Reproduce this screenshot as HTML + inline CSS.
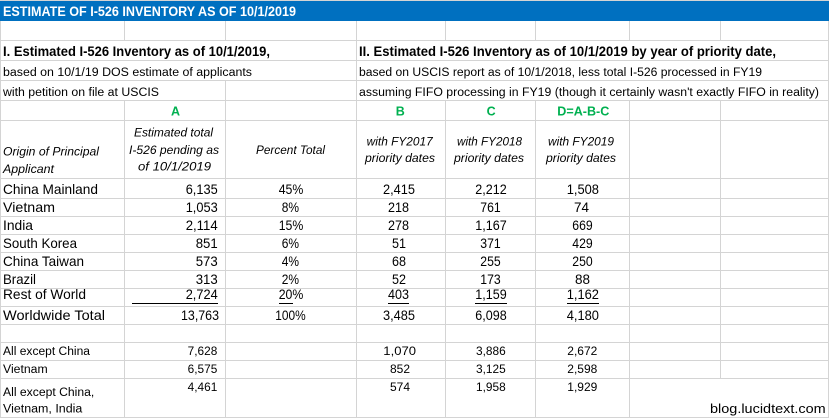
<!DOCTYPE html>
<html>
<head>
<meta charset="utf-8">
<style>
html,body{margin:0;padding:0;background:#fff;}
svg{display:block;}
text{font-family:"Liberation Sans",sans-serif;fill:#000;}
.t14{font-size:14px;}
.s{font-size:11.5px;}
.i{font-size:11.5px;font-style:italic;}
.g{font-size:12.5px;font-weight:bold;fill:#00B050;}
.b{font-weight:bold;font-size:13.5px;}
</style>
</head>
<body>
<svg width="829" height="419" viewBox="0 0 829 419" xmlns="http://www.w3.org/2000/svg">
<rect x="0" y="0" width="829" height="419" fill="#fff"/>
<!-- top line and blue bar -->
<rect x="0" y="0" width="829" height="1" fill="#d4d4d4"/>
<rect x="0" y="1" width="829" height="20" fill="#0070C0"/>

<!-- horizontal gridlines -->
<g fill="#d4d4d4">
<rect x="0" y="40" width="829" height="1"/>
<rect x="0" y="60" width="829" height="1"/>
<rect x="0" y="80" width="829" height="1"/>
<rect x="0" y="100" width="829" height="1"/>
<rect x="0" y="120" width="829" height="1"/>
<rect x="0" y="178" width="829" height="1"/>
<rect x="0" y="198" width="829" height="1"/>
<rect x="0" y="216" width="829" height="1"/>
<rect x="0" y="234" width="829" height="1"/>
<rect x="0" y="252" width="829" height="1"/>
<rect x="0" y="270" width="829" height="1"/>
<rect x="0" y="288" width="829" height="1"/>
<rect x="0" y="306" width="829" height="1"/>
<rect x="0" y="324" width="829" height="1"/>
<rect x="0" y="342" width="829" height="1"/>
<rect x="0" y="360" width="829" height="1"/>
<rect x="0" y="378" width="829" height="1"/>
<rect x="0" y="417" width="829" height="1"/>
<!-- vertical gridlines -->
<rect x="0" y="21" width="1" height="397"/>
<rect x="124" y="21" width="1" height="19"/>
<rect x="124" y="100" width="1" height="318"/>
<rect x="225" y="21" width="1" height="19"/>
<rect x="225" y="80" width="1" height="338"/>
<rect x="356" y="21" width="1" height="397"/>
<rect x="445" y="21" width="1" height="19"/>
<rect x="445" y="100" width="1" height="318"/>
<rect x="535" y="21" width="1" height="19"/>
<rect x="535" y="100" width="1" height="318"/>
<rect x="629" y="21" width="1" height="19"/>
<rect x="629" y="100" width="1" height="318"/>
<rect x="720" y="21" width="1" height="19"/>
<rect x="720" y="100" width="1" height="278"/>
<rect x="828" y="21" width="1" height="397"/>
</g>

<!-- title -->
<text x="3" y="16" class="b" style="fill:#fff" textLength="293" lengthAdjust="spacingAndGlyphs">ESTIMATE OF I-526 INVENTORY AS OF 10/1/2019</text>

<!-- section headings -->
<text x="3" y="56" class="b" textLength="267" lengthAdjust="spacingAndGlyphs">I. Estimated I-526 Inventory as of 10/1/2019,</text>
<text x="359" y="56" class="b" textLength="417" lengthAdjust="spacingAndGlyphs">II. Estimated I-526 Inventory as of 10/1/2019 by year of priority date,</text>
<text x="3" y="76" class="s" textLength="249" lengthAdjust="spacingAndGlyphs">based on 10/1/19 DOS estimate of applicants</text>
<text x="359" y="76" class="s" textLength="403" lengthAdjust="spacingAndGlyphs">based on USCIS report as of 10/1/2018, less total I-526 processed in FY19</text>
<text x="3" y="96" class="s" textLength="156" lengthAdjust="spacingAndGlyphs">with petition on file at USCIS</text>
<text x="359" y="96" class="s" textLength="460" lengthAdjust="spacingAndGlyphs">assuming FIFO processing in FY19 (though it certainly wasn't exactly FIFO in reality)</text>

<!-- green letters -->
<text x="175.5" y="115.5" class="g" text-anchor="middle">A</text>
<text x="400.3" y="115.5" class="g" text-anchor="middle">B</text>
<text x="491.2" y="115.5" class="g" text-anchor="middle">C</text>
<text x="557.3" y="115.5" class="g" textLength="52" lengthAdjust="spacingAndGlyphs">D=A-B-C</text>

<!-- italic headers -->
<text x="3" y="155.5" class="i" textLength="96" lengthAdjust="spacingAndGlyphs">Origin of Principal</text>
<text x="3" y="173" class="i" textLength="51" lengthAdjust="spacingAndGlyphs">Applicant</text>
<text x="134" y="136.5" class="i" textLength="79" lengthAdjust="spacingAndGlyphs">Estimated total</text>
<text x="129" y="154" class="i" textLength="90" lengthAdjust="spacingAndGlyphs">I-526 pending as</text>
<text x="138" y="170.5" class="i" textLength="73" lengthAdjust="spacingAndGlyphs">of 10/1/2019</text>
<text x="256" y="154" class="i" textLength="69" lengthAdjust="spacingAndGlyphs">Percent Total</text>
<text x="366.7" y="145.5" class="i" textLength="66" lengthAdjust="spacingAndGlyphs">with FY2017</text>
<text x="365" y="162" class="i" textLength="70" lengthAdjust="spacingAndGlyphs">priority dates</text>
<text x="457" y="145.5" class="i" textLength="65" lengthAdjust="spacingAndGlyphs">with FY2018</text>
<text x="454" y="162" class="i" textLength="70" lengthAdjust="spacingAndGlyphs">priority dates</text>
<text x="548" y="145.5" class="i" textLength="66" lengthAdjust="spacingAndGlyphs">with FY2019</text>
<text x="546" y="162" class="i" textLength="70" lengthAdjust="spacingAndGlyphs">priority dates</text>

<!-- data rows -->
<g class="t14">
<text x="3" y="194" class="t14" textLength="95" lengthAdjust="spacingAndGlyphs">China Mainland</text>
<text x="185.7" y="194" class="t14" textLength="32" lengthAdjust="spacingAndGlyphs">6,135</text>
<text x="278.7" y="194" class="t14" textLength="24.6" lengthAdjust="spacingAndGlyphs">45%</text>
<text x="383" y="194" class="t14" textLength="32" lengthAdjust="spacingAndGlyphs">2,415</text>
<text x="475.3" y="194" class="t14" textLength="31.4" lengthAdjust="spacingAndGlyphs">2,212</text>
<text x="566.7" y="194" class="t14" textLength="32.3" lengthAdjust="spacingAndGlyphs">1,508</text>

<text x="3" y="212" class="t14" textLength="52" lengthAdjust="spacingAndGlyphs">Vietnam</text>
<text x="185.7" y="212" class="t14" textLength="32" lengthAdjust="spacingAndGlyphs">1,053</text>
<text x="281.7" y="212" class="t14" textLength="17.3" lengthAdjust="spacingAndGlyphs">8%</text>
<text x="388" y="212" class="t14" textLength="21" lengthAdjust="spacingAndGlyphs">218</text>
<text x="480.3" y="212" class="t14" textLength="20.4" lengthAdjust="spacingAndGlyphs">761</text>
<text x="574" y="212" class="t14" textLength="15" lengthAdjust="spacingAndGlyphs">74</text>

<text x="3" y="230" class="t14" textLength="30" lengthAdjust="spacingAndGlyphs">India</text>
<text x="185.7" y="230" class="t14" textLength="32" lengthAdjust="spacingAndGlyphs">2,114</text>
<text x="278.7" y="230" class="t14" textLength="24.6" lengthAdjust="spacingAndGlyphs">15%</text>
<text x="388" y="230" class="t14" textLength="21" lengthAdjust="spacingAndGlyphs">278</text>
<text x="475.3" y="230" class="t14" textLength="31.4" lengthAdjust="spacingAndGlyphs">1,167</text>
<text x="572.3" y="230" class="t14" textLength="20.4" lengthAdjust="spacingAndGlyphs">669</text>

<text x="3" y="248" class="t14" textLength="74" lengthAdjust="spacingAndGlyphs">South Korea</text>
<text x="195.7" y="248" class="t14" textLength="22" lengthAdjust="spacingAndGlyphs">851</text>
<text x="281.7" y="248" class="t14" textLength="17.3" lengthAdjust="spacingAndGlyphs">6%</text>
<text x="392" y="248" class="t14" textLength="14" lengthAdjust="spacingAndGlyphs">51</text>
<text x="480.3" y="248" class="t14" textLength="20.4" lengthAdjust="spacingAndGlyphs">371</text>
<text x="572.3" y="248" class="t14" textLength="20.4" lengthAdjust="spacingAndGlyphs">429</text>

<text x="3" y="266" class="t14" textLength="81" lengthAdjust="spacingAndGlyphs">China Taiwan</text>
<text x="195.7" y="266" class="t14" textLength="22" lengthAdjust="spacingAndGlyphs">573</text>
<text x="281.7" y="266" class="t14" textLength="17.3" lengthAdjust="spacingAndGlyphs">4%</text>
<text x="392" y="266" class="t14" textLength="14" lengthAdjust="spacingAndGlyphs">68</text>
<text x="480.3" y="266" class="t14" textLength="20.4" lengthAdjust="spacingAndGlyphs">255</text>
<text x="572.3" y="266" class="t14" textLength="20.4" lengthAdjust="spacingAndGlyphs">250</text>

<text x="3" y="284" class="t14" textLength="33" lengthAdjust="spacingAndGlyphs">Brazil</text>
<text x="195.7" y="284" class="t14" textLength="22" lengthAdjust="spacingAndGlyphs">313</text>
<text x="281.7" y="284" class="t14" textLength="17.3" lengthAdjust="spacingAndGlyphs">2%</text>
<text x="392" y="284" class="t14" textLength="14" lengthAdjust="spacingAndGlyphs">52</text>
<text x="480.3" y="284" class="t14" textLength="20.4" lengthAdjust="spacingAndGlyphs">173</text>
<text x="575" y="284" class="t14" textLength="15" lengthAdjust="spacingAndGlyphs">88</text>

<text x="3" y="299" class="t14" textLength="83" lengthAdjust="spacingAndGlyphs">Rest of World</text>
<text x="185.7" y="299" class="t14" textLength="32" lengthAdjust="spacingAndGlyphs">2,724</text>
<text x="278.7" y="299" class="t14" textLength="24.6" lengthAdjust="spacingAndGlyphs">20%</text>
<text x="388" y="299" class="t14" textLength="21" lengthAdjust="spacingAndGlyphs">403</text>
<text x="475.3" y="299" class="t14" textLength="31.4" lengthAdjust="spacingAndGlyphs">1,159</text>
<text x="566.7" y="299" class="t14" textLength="32.3" lengthAdjust="spacingAndGlyphs">1,162</text>

<text x="3" y="320" class="t14" textLength="102" lengthAdjust="spacingAndGlyphs">Worldwide Total</text>
<text x="181" y="320" class="t14" textLength="38" lengthAdjust="spacingAndGlyphs">13,763</text>
<text x="275.3" y="320" class="t14" textLength="30.4" lengthAdjust="spacingAndGlyphs">100%</text>
<text x="383" y="320" class="t14" textLength="32" lengthAdjust="spacingAndGlyphs">3,485</text>
<text x="475.3" y="320" class="t14" textLength="31.4" lengthAdjust="spacingAndGlyphs">6,098</text>
<text x="566.7" y="320" class="t14" textLength="32.3" lengthAdjust="spacingAndGlyphs">4,180</text>
</g>

<!-- underlines -->
<g fill="#000">
<rect x="132" y="303" width="86" height="1"/>
<rect x="279" y="303" width="14" height="1"/>
<rect x="388" y="303" width="21" height="1"/>
<rect x="475" y="303" width="32" height="1"/>
<rect x="567" y="303" width="32" height="1"/>
</g>

<!-- bottom rows -->
<text x="3" y="355" class="s" textLength="87" lengthAdjust="spacingAndGlyphs">All except China</text>
<text x="187.7" y="355" class="s" textLength="29.6" lengthAdjust="spacingAndGlyphs">7,628</text>
<text x="383.3" y="355" class="s" textLength="32.7" lengthAdjust="spacingAndGlyphs">1,070</text>
<text x="476" y="355" class="s" textLength="29.7" lengthAdjust="spacingAndGlyphs">3,886</text>
<text x="567.3" y="355" class="s" textLength="30" lengthAdjust="spacingAndGlyphs">2,672</text>

<text x="3" y="373" class="s" textLength="44.7" lengthAdjust="spacingAndGlyphs">Vietnam</text>
<text x="187.7" y="373" class="s" textLength="29.6" lengthAdjust="spacingAndGlyphs">6,575</text>
<text x="390" y="373" class="s" textLength="20" lengthAdjust="spacingAndGlyphs">852</text>
<text x="476" y="373" class="s" textLength="29.7" lengthAdjust="spacingAndGlyphs">3,125</text>
<text x="567.3" y="373" class="s" textLength="30" lengthAdjust="spacingAndGlyphs">2,598</text>

<text x="3" y="396" class="s" textLength="91.3" lengthAdjust="spacingAndGlyphs">All except China,</text>
<text x="3" y="412.7" class="s" textLength="79.3" lengthAdjust="spacingAndGlyphs">Vietnam, India</text>
<text x="187.7" y="391" class="s" textLength="29.6" lengthAdjust="spacingAndGlyphs">4,461</text>
<text x="390" y="391" class="s" textLength="20" lengthAdjust="spacingAndGlyphs">574</text>
<text x="476" y="391" class="s" textLength="29.7" lengthAdjust="spacingAndGlyphs">1,958</text>
<text x="567.3" y="391" class="s" textLength="30" lengthAdjust="spacingAndGlyphs">1,929</text>

<text x="710" y="413" style="font-size:12.5px" textLength="115.7" lengthAdjust="spacingAndGlyphs">blog.lucidtext.com</text>
</svg>
</body>
</html>
